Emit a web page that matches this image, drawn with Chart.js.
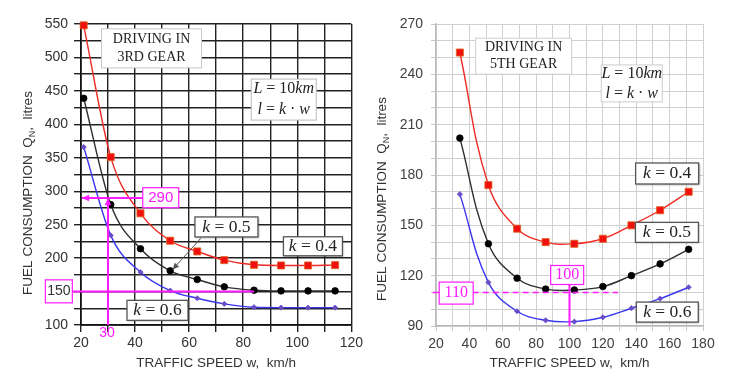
<!DOCTYPE html>
<html>
<head>
<meta charset="utf-8">
<script src="https://cdn.jsdelivr.net/npm/chart.js@4.4.1/dist/chart.umd.min.js"></script>
<style>
    html, body { margin: 0; padding: 0; background: #fff; }
    #wrap { position: relative; width: 733px; height: 384px; overflow: hidden; }
    .pane { position: absolute; top: 0; height: 384px; }
    #p3 { left: 0; width: 366px; }
    #p5 { left: 366px; width: 367px; }
</style>
</head>
<body>
<div id="wrap">
    <div class="pane" id="p3"><canvas id="gear3"></canvas></div>
    <div class="pane" id="p5"><canvas id="gear5"></canvas></div>
</div>
<script>
// 3rd gear: traffic speed (km/h) vs fuel consumption (litres)
const speed3 = [21, 31, 42, 53, 63, 73, 84, 94, 104, 114];
const fuel3K04 = [548, 351, 267, 226, 210, 197, 190, 189, 189, 189.5];
const fuel3K05 = [439, 280, 214, 181, 168, 157, 152, 151, 151, 151];
const fuel3K06 = [366, 234, 179, 151.5, 140, 131.6, 126.6, 126, 126, 126];

// 5th gear
const speed5 = [34.3, 51.4, 68.6, 85.7, 102.9, 120, 137.1, 154.3, 171.4];
const fuel5K04 = [253, 174, 148, 140, 139, 142, 150, 159, 170];
const fuel5K05 = [202, 139, 118.5, 112, 111.5, 113.5, 120, 127, 135.7];
const fuel5K06 = [168.6, 116, 98.8, 93.4, 92.6, 95.2, 100.6, 106.3, 113.1];

// axis ranges: [min, max, grid step, label step]
const axis3X = [20, 120, 10, 20];
const axis3Y = [100, 550, 25, 50];
const axis5X = [20, 180, 10, 20];
const axis5Y = [90, 270, 10, 30];

const kNames = ['0.4', '0.5', '0.6'];

const SERIF = '"Liberation Serif", "DejaVu Serif", serif';
const SANS = '"Liberation Sans", Arial, sans-serif';
const MAGENTA = '#ff1aff';

const seriesStyle = [
    { line: '#ee2b24', point: '#f01010', edge: '#e0601a', shape: 'rect', r: 5 },
    { line: '#2e2e2e', point: '#000000', edge: '#000000', shape: 'circle', r: 3.3 },
    { line: '#3a36f0', point: '#6a4cc8', edge: '#6a4cc8', shape: 'rectRot', r: 2.6 }
];

function drawRuns(ctx, runs, cx, cy, family, size, color) {
    const fontFor = st => (st === 'i' ? 'italic ' : '') + (st === 'sub' ? Math.round(size * 0.7) : size) + 'px ' + family;
    let total = 0;
    runs.forEach(([t, st]) => { ctx.font = fontFor(st); total += ctx.measureText(t).width; });
    let x = cx - total / 2;
    ctx.fillStyle = color;
    ctx.textBaseline = 'middle';
    ctx.textAlign = 'left';
    runs.forEach(([t, st]) => {
        ctx.font = fontFor(st);
        ctx.fillText(t, x, st === 'sub' ? cy + size * 0.32 : cy);
        x += ctx.measureText(t).width;
    });
}

function arrowHead(ctx, x1, y1, x2, y2, size) {
    const a = Math.atan2(y2 - y1, x2 - x1);
    ctx.beginPath();
    ctx.moveTo(x2, y2);
    ctx.lineTo(x2 - size * Math.cos(a - 0.42), y2 - size * Math.sin(a - 0.42));
    ctx.lineTo(x2 - size * Math.cos(a + 0.42), y2 - size * Math.sin(a + 0.42));
    ctx.closePath();
    ctx.fill();
}

// guide lines, label boxes and axis titles
const notesPlugin = {
    id: 'notes',
    afterDatasetsDraw(chart, args, opts) {
        const ctx = chart.ctx;
        const X = v => chart.scales.x.getPixelForValue(v);
        const Y = v => chart.scales.y.getPixelForValue(v);
        const area = chart.chartArea;
        ctx.save();

        (opts.guides || []).forEach(g => {
            const x1 = X(g.from[0]), y1 = Y(g.from[1]), x2 = X(g.to[0]), y2 = Y(g.to[1]);
            ctx.strokeStyle = g.color;
            ctx.fillStyle = g.color;
            ctx.lineWidth = g.width;
            ctx.setLineDash(g.dash || []);
            ctx.beginPath();
            ctx.moveTo(x1, y1);
            ctx.lineTo(x2, y2);
            ctx.stroke();
            ctx.setLineDash([]);
            if (g.head) arrowHead(ctx, x1, y1, x2, y2, g.head);
        });

        (opts.boxes || []).forEach(b => {
            const cx = X(b.at[0]), cy = Y(b.at[1]);
            if (b.w) {
                ctx.save();
                if (b.shadow) {
                    ctx.shadowColor = 'rgba(0,0,0,0.35)';
                    ctx.shadowBlur = 2;
                    ctx.shadowOffsetX = 1;
                    ctx.shadowOffsetY = 1;
                }
                ctx.fillStyle = '#fff';
                ctx.fillRect(cx - b.w / 2, cy - b.h / 2, b.w, b.h);
                ctx.restore();
                ctx.strokeStyle = b.border;
                ctx.lineWidth = b.lw || 1;
                ctx.strokeRect(cx - b.w / 2, cy - b.h / 2, b.w, b.h);
            }
            const gap = b.gap || 0;
            const top = cy - gap * (b.lines.length - 1) / 2;
            b.lines.forEach((runs, i) => drawRuns(ctx, runs, cx, top + i * gap, b.family, b.size, b.color));
        });

        const t = opts.titles;
        if (t) {
            drawRuns(ctx, t.x, (area.left + area.right) / 2, area.bottom + t.xDy, SANS, 13.5, '#333');
            ctx.save();
            ctx.translate(area.left + t.yDx, t.yCy);
            ctx.rotate(-Math.PI / 2);
            drawRuns(ctx, t.y, 0, 0, SANS, 13.5, '#333');
            ctx.restore();
        }
        ctx.restore();
    }
};

function kBox(name, at, w, h) {
    return { at, w, h, border: '#555', lw: 1.3, shadow: true, family: SERIF, size: 17.5, color: '#222',
        lines: [[['k', 'i'], [' = ' + name, '']]] };
}

function makeChart(id, xs, series, cfg) {
    const datasets = series.map((vals, i) => ({
        label: 'k = ' + kNames[i],
        data: xs.map((x, j) => ({ x: x, y: vals[j] })),
        borderColor: seriesStyle[i].line,
        borderWidth: 1.4,
        pointStyle: seriesStyle[i].shape,
        pointRadius: seriesStyle[i].r,
        pointBackgroundColor: seriesStyle[i].point,
        pointBorderColor: seriesStyle[i].edge,
        pointBorderWidth: 0.8,
        tension: cfg.tension,
        cubicInterpolationMode: cfg.interp,
        clip: false
    }));

    const tickFont = { family: SANS, size: 14 };
    return new Chart(document.getElementById(id), {
        type: 'line',
        data: { datasets: datasets },
        options: {
            responsive: true,
            maintainAspectRatio: false,
            animation: false,
            layout: { padding: cfg.padding },
            plugins: {
                legend: { display: false },
                tooltip: { enabled: false },
                notes: cfg.notes
            },
            scales: {
                x: {
                    type: 'linear',
                    min: cfg.ax[0], max: cfg.ax[1],
                    afterFit: s => { s.height = cfg.xH; },
                    ticks: {
                        stepSize: cfg.ax[2], autoSkip: false, maxRotation: 0,
                        padding: cfg.tickPad[0], color: cfg.tickColor, font: tickFont,
                        callback: v => (v % cfg.ax[3] === 0 ? v : '')
                    },
                    grid: { color: cfg.grid, lineWidth: cfg.gridW, tickLength: cfg.tickLen, tickColor: cfg.tickMark },
                    border: { color: cfg.axisLine, width: cfg.gridW + 0.3 }
                },
                y: {
                    type: 'linear',
                    min: cfg.ay[0], max: cfg.ay[1],
                    afterFit: s => { s.width = cfg.yW; },
                    ticks: {
                        stepSize: cfg.ay[2], autoSkip: false,
                        padding: cfg.tickPad[1], color: cfg.tickColor, font: tickFont,
                        callback: v => (v % cfg.ay[3] === 0 ? v : '')
                    },
                    grid: { color: cfg.grid, lineWidth: cfg.gridW, tickLength: cfg.tickLen, tickColor: cfg.tickMark },
                    border: { color: cfg.axisLine, width: cfg.gridW + 0.3 }
                }
            }
        },
        plugins: [notesPlugin]
    });
}

const xTitle = [['TRAFFIC SPEED w,  km/h', '']];
const yTitle = [['FUEL CONSUMPTION  Q', ''], ['N', 'sub'], [',  litres', '']];

makeChart('gear3', speed3, [fuel3K04, fuel3K05, fuel3K06], {
    ax: axis3X, ay: axis3Y,
    padding: { left: 0, right: 14, top: 24, bottom: 0 },
    xH: 59, yW: 81,
    tension: 0.4, interp: 'monotone',
    grid: '#222', gridW: 1.4, axisLine: '#111', tickMark: '#222', tickLen: 7,
    tickPad: [3, 6], tickColor: '#333',
    notes: {
        guides: [
            { from: [30, 100], to: [30, 290], color: MAGENTA, width: 2, head: 8 },
            { from: [49.5, 290], to: [20.3, 290], color: MAGENTA, width: 2, head: 8 },
            { from: [11.8, 150], to: [84, 150], color: MAGENTA, width: 2 },
            { from: [64.3, 229.6], to: [53.9, 183], color: '#555', width: 1, head: 7 }
        ],
        boxes: [
            { at: [46.1, 513.6], w: 100, h: 39, border: '#c8c8c8', family: SERIF, size: 14, color: '#222', gap: 17.6,
              lines: [[['DRIVING IN', '']], [['3RD GEAR', '']]] },
            { at: [95, 437], w: 65, h: 41, border: '#bbbbbb', family: SERIF, size: 16, color: '#222', gap: 21,
              lines: [[['L', 'i'], [' = 10', ''], ['km', 'i']], [['l', 'i'], [' = ', ''], ['k', 'i'], [' · ', ''], ['w', 'i']]] },
            kBox(kNames[1], [73.8, 246.6], 63, 20),
            kBox(kNames[0], [105.8, 217.7], 59, 19),
            kBox(kNames[2], [48.3, 121.9], 61, 20),
            { at: [49.5, 290.3], w: 36, h: 20, border: MAGENTA, lw: 1.2, family: SANS, size: 15, color: MAGENTA,
              lines: [[['290', '']]] },
            { at: [11.8, 150.3], w: 27, h: 23, border: MAGENTA, lw: 1.2, family: SANS, size: 14, color: '#333',
              lines: [[['150', '']]] },
            { at: [29.6, 87.5], family: SANS, size: 14, color: MAGENTA, lines: [[['30', '']]] }
        ],
        titles: { x: xTitle, y: yTitle, xDy: 38, yDx: -53, yCy: 193 }
    }
});

makeChart('gear5', speed5, [fuel5K04, fuel5K05, fuel5K06], {
    ax: axis5X, ay: axis5Y,
    padding: { left: 0, right: 30, top: 24, bottom: 0 },
    xH: 58, yW: 70,
    tension: 0.4, interp: 'default',
    grid: '#d0d0d0', gridW: 1, axisLine: '#b8b8b8', tickMark: '#c8c8c8', tickLen: 5,
    tickPad: [5, 8], tickColor: '#404040',
    notes: {
        guides: [
            { from: [18, 110], to: [129, 110], color: MAGENTA, width: 1.6, dash: [6, 4] },
            { from: [100, 90], to: [100, 120], color: MAGENTA, width: 2 }
        ],
        boxes: [
            { at: [72.5, 250.8], w: 96, h: 36, border: '#cfcfcf', family: SERIF, size: 14, color: '#222', gap: 17,
              lines: [[['DRIVING IN', '']], [['5TH GEAR', '']]] },
            { at: [137.3, 234.6], w: 61, h: 37, border: '#cccccc', family: SERIF, size: 16, color: '#222', gap: 20,
              lines: [[['L', 'i'], [' = 10', ''], ['km', 'i']], [['l', 'i'], [' = ', ''], ['k', 'i'], [' · ', ''], ['w', 'i']]] },
            kBox(kNames[0], [158.5, 180.9], 63, 21),
            kBox(kNames[1], [158.4, 145.8], 63, 20),
            kBox(kNames[2], [158.6, 98.3], 62, 20),
            { at: [32.1, 109.6], w: 34, h: 22, border: MAGENTA, lw: 1.2, family: SERIF, size: 16, color: MAGENTA,
              lines: [[['110', '']]] },
            { at: [98.6, 120.4], w: 33, h: 19, border: MAGENTA, lw: 1.2, family: SERIF, size: 16, color: MAGENTA,
              lines: [[['100', '']]] }
        ],
        titles: { x: xTitle, y: yTitle, xDy: 37, yDx: -54, yCy: 199 }
    }
});
</script>
</body>
</html>
